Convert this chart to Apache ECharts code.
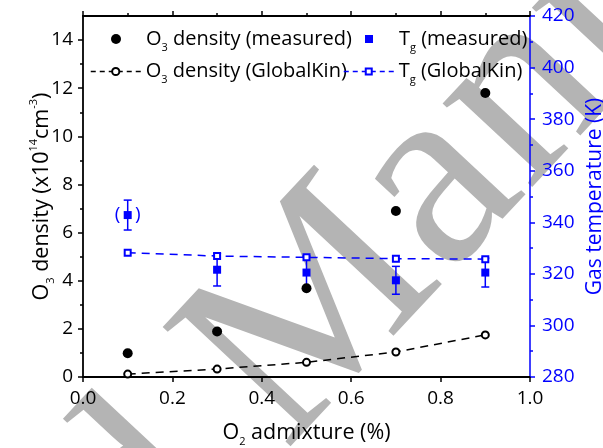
<!DOCTYPE html>
<html><head><meta charset="utf-8">
<script src="https://cdn.jsdelivr.net/npm/echarts@6/dist/echarts.min.js"></script>
<style>html,body{margin:0;padding:0;background:#fff}#c{width:603px;height:448px}</style>
</head><body><div id="c"></div>
<script>
// ---- data ----
const admixture = [0.1, 0.3, 0.5, 0.7, 0.9];
const o3Measured = [0.99, 1.89, 3.69, 6.9, 11.8];
const o3GlobalKin = [0.12, 0.33, 0.61, 1.04, 1.75];
const tgMeasured = [342.8, 321.6, 320.5, 317.5, 320.5];
const tgError = [5.8, 6.3, 6.4, 5.4, 5.6];
const tgGlobalKin = [328.2, 326.9, 326.4, 325.9, 325.7];
const tgTentative = [true, false, false, false, false];
const xTicks = [0, 0.2, 0.4, 0.6, 0.8, 1.0];
const o3Ticks = [0, 2, 4, 6, 8, 10, 12, 14];
const o3MinorTicks = [1, 3, 5, 7, 9, 11, 13];
const tgTicks = [280, 300, 320, 340, 360, 380, 400, 420];
const seriesNames = ['O3 density (measured)', 'O3 density (GlobalKin)', 'Tg (measured)', 'Tg (GlobalKin)'];
const legendLabels = {
  'O3 density (measured)': '{n|O}{s|3}{n| density (measured)}',
  'O3 density (GlobalKin)': '{n|O}{s|3}{n| density (GlobalKin)}',
  'Tg (measured)': '{n|T}{s|g}{n| (measured)}',
  'Tg (GlobalKin)': '{n|T}{s|g}{n| (GlobalKin)}'
};
const xName = '{n|O}{s|2}{n| admixture (%)}';
const yLeftName = '{n|O}{s|3}{n| density (x10}{p|14}{n|cm}{p|-3}{n|)}';
const yRightName = 'Gas temperature (K)';
const watermarkLead = 'Accepted ';
const watermarkMain = 'Manuscript';

// ---- styles ----
const FF = '"Open Sans", "Noto Sans", sans-serif';
const FS = 19;
const BLUE = '#0000ff';
function rich(color, size) {
  return {
    n: {fontSize: size, fontFamily: FF, color: color, lineHeight: 28},
    s: {fontSize: 11, fontFamily: FF, color: color, lineHeight: 12, verticalAlign: 'bottom'},
    p: {fontSize: 11, fontFamily: FF, color: color, lineHeight: 12, verticalAlign: 'top'}
  };
}
const chart = echarts.init(document.getElementById('c'), null, {renderer: 'canvas'});

function legendItem(name, left, top, itemHeight, icon, lineDash) {
  return {
    data: [icon ? {name: name, icon: icon} : name], left: left, top: top, itemWidth: 50, itemHeight: itemHeight,
    itemGap: 0, padding: 0, selectedMode: false,
    formatter: n => legendLabels[n],
    textStyle: {rich: rich('#000', 20)},
    lineStyle: lineDash ? {type: lineDash, width: 1.5} : undefined
  };
}

// watermark placement (start of "Manuscript" at WM_X/WM_Y, rotated)
const WM_FONT_SIZE = 267, WM_ANGLE = 47, WM_X = 234, WM_Y = 404;
const WM_FAMILY = '"Liberation Serif", "DejaVu Serif", serif';
const mctx = document.createElement('canvas').getContext('2d');
mctx.font = WM_FONT_SIZE + 'px ' + WM_FAMILY;
const leadW = mctx.measureText(watermarkLead).width;
const th = WM_ANGLE * Math.PI / 180;
const wmX = WM_X - Math.cos(th) * leadW, wmY = WM_Y + Math.sin(th) * leadW;

const option = {
  animation: false,
  backgroundColor: '#fff',
  graphic: [{
    type: 'text', x: wmX, y: wmY, rotation: th, z: -10,
    style: {text: watermarkLead + watermarkMain, fontSize: WM_FONT_SIZE, fontFamily: WM_FAMILY,
            fill: '#b4b4b4', textAlign: 'left', textVerticalAlign: 'middle', align: 'left', verticalAlign: 'middle'}
  }],
  grid: {left: 83, right: 73, top: 16, bottom: 71, containLabel: false, outerBoundsMode: 'none'},
  legend: [
    legendItem(seriesNames[0], 111, 29, 10),
    legendItem(seriesNames[2], 365, 29, 8, 'path://M0,0H10V10H0Z'),
    legendItem(seriesNames[1], 90, 61.5, 9, null, [5, 4]),
    legendItem(seriesNames[3], 343, 61.5, 7.5, null, [5, 4])
  ],
  xAxis: [{
    type: 'value', position: 'bottom', min: 0, max: 1, interval: 0.2,
    axisLine: {onZero: false, lineStyle: {color: '#000', width: 1.8}},
    axisTick: {customValues: xTicks, length: 5, lineStyle: {color: '#000', width: 1.5}},
    axisLabel: {customValues: xTicks, formatter: v => v.toFixed(1), fontSize: FS, fontFamily: FF, color: '#000', margin: 12},
    splitLine: {show: false},
    name: xName, nameLocation: 'middle', nameGap: 42, nameMoveOverlap: false,
    nameTextStyle: {rich: rich('#000', 21.5)}
  }, {
    type: 'value', position: 'top', min: 0, max: 1, interval: 0.2,
    axisLine: {onZero: false, lineStyle: {color: '#000', width: 1.8}},
    axisTick: {length: 5, lineStyle: {color: '#000', width: 1.5}},
    minorTick: {show: true, splitNumber: 2, length: 3, lineStyle: {color: '#000', width: 1.5}},
    axisLabel: {show: false}, splitLine: {show: false}
  }],
  yAxis: [{
    type: 'value', position: 'left', min: 0, max: 15,
    axisLine: {onZero: false, lineStyle: {color: '#000', width: 1.8}},
    axisTick: {customValues: o3Ticks, length: 5, lineStyle: {color: '#000', width: 1.5}},
    axisLabel: {customValues: o3Ticks, fontSize: FS, fontFamily: FF, color: '#000', margin: 10},
    splitLine: {show: false},
    name: yLeftName, nameLocation: 'middle', nameRotate: 90, nameGap: 27, nameMoveOverlap: false,
    nameTextStyle: {rich: rich('#000', 21.5)}
  }, {
    type: 'value', position: 'right', min: 280, max: 420, interval: 20,
    axisLine: {onZero: false, lineStyle: {color: BLUE, width: 1.5}},
    axisTick: {customValues: tgTicks, length: 5, lineStyle: {color: BLUE, width: 1.5}},
    minorTick: {show: true, splitNumber: 2, length: 3, lineStyle: {color: BLUE, width: 1.5}},
    axisLabel: {customValues: tgTicks, fontSize: FS, fontFamily: FF, color: BLUE, margin: 12},
    splitLine: {show: false},
    name: yRightName, nameLocation: 'middle', nameRotate: 90, nameGap: 55, nameMoveOverlap: false,
    nameTextStyle: {fontSize: 21, fontFamily: FF, color: BLUE}
  }, {
    type: 'value', position: 'left', min: 0, max: 15,
    axisLine: {show: false},
    axisTick: {customValues: o3MinorTicks, length: 3, lineStyle: {color: '#000', width: 1.5}},
    axisLabel: {show: false}, splitLine: {show: false}
  }],
  series: [{
    name: seriesNames[0], type: 'scatter', xAxisIndex: 0, yAxisIndex: 0,
    symbol: 'circle', symbolSize: 10, itemStyle: {color: '#000', opacity: 1}, z: 6,
    data: admixture.map((x, i) => [x, o3Measured[i]])
  }, {
    name: seriesNames[1], type: 'line', xAxisIndex: 0, yAxisIndex: 0,
    symbol: 'emptyCircle', symbolSize: 7, showSymbol: true,
    itemStyle: {color: '#000', borderWidth: 1.3},
    lineStyle: {color: '#000', width: 1.5, type: [8, 6]}, z: 5,
    data: admixture.map((x, i) => [x, o3GlobalKin[i]])
  }, {
    name: seriesNames[2], type: 'scatter', xAxisIndex: 0, yAxisIndex: 1,
    symbol: 'rect', symbolSize: 8, itemStyle: {color: BLUE, opacity: 1}, z: 6,
    label: {show: true, position: 'inside', formatter: p => tgTentative[p.dataIndex] ? '(   )' : '',
            fontSize: FS, fontFamily: FF, color: BLUE},
    data: admixture.map((x, i) => [x, tgMeasured[i]])
  }, {
    name: seriesNames[3], type: 'line', xAxisIndex: 0, yAxisIndex: 1,
    symbol: 'emptyRect', symbolSize: 6, showSymbol: true,
    itemStyle: {color: BLUE, borderWidth: 1.3},
    lineStyle: {color: BLUE, width: 1.5, type: [8, 6]}, z: 5,
    data: admixture.map((x, i) => [x, tgGlobalKin[i]])
  }, {
    type: 'custom', xAxisIndex: 0, yAxisIndex: 1, z: 4,
    data: admixture.map((x, i) => [x, tgMeasured[i] - tgError[i], tgMeasured[i] + tgError[i]]),
    encode: {x: 0, y: [1, 2]},
    renderItem: (params, api) => {
      const lo = api.coord([api.value(0), api.value(1)]);
      const hi = api.coord([api.value(0), api.value(2)]);
      const w = 4;
      const st = {stroke: BLUE, lineWidth: 1.5};
      return {type: 'group', children: [
        {type: 'line', shape: {x1: lo[0], y1: lo[1], x2: hi[0], y2: hi[1]}, style: st},
        {type: 'line', shape: {x1: lo[0] - w, y1: lo[1], x2: lo[0] + w, y2: lo[1]}, style: st},
        {type: 'line', shape: {x1: hi[0] - w, y1: hi[1], x2: hi[0] + w, y2: hi[1]}, style: st}
      ]};
    }
  }]
};
chart.setOption(option);
</script></body></html>
